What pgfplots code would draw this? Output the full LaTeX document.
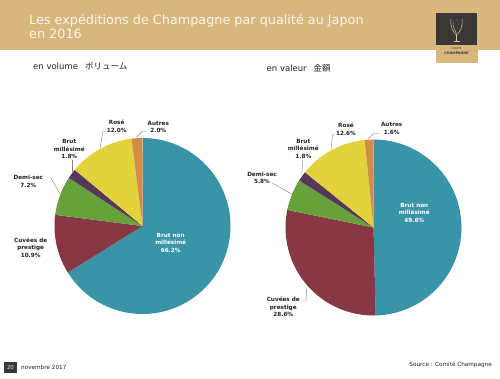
\documentclass[border=0pt]{standalone}
\usepackage{pgfplots}
\pgfplotsset{compat=1.18}
\usepackage{fontspec}
\setmainfont{DejaVu Sans}
\newfontfamily\jp{Noto Sans CJK JP}
\definecolor{band}{HTML}{D8B77E}
\definecolor{titlec}{HTML}{FAF5EA}
\definecolor{logo}{HTML}{3A3836}
\definecolor{cteal}{HTML}{3A94A8}
\definecolor{cmaroon}{HTML}{883844}
\definecolor{cgreen}{HTML}{68A03C}
\definecolor{cpurple}{HTML}{58385A}
\definecolor{cyellow}{HTML}{E2D23C}
\definecolor{corange}{HTML}{D68A46}
\definecolor{leader}{HTML}{808080}
\definecolor{lab}{HTML}{222222}
% slice: colour, cumulative start (%), cumulative end (%), total (%)
\newcommand\slice[4]{%
  \addplot[fill=#1, draw=none, domain={90-360*#3/#4}:{90-360*#2/#4}, samples=120]
    ({cos(x)},{sin(x)}) -- (axis cs:0,0) -- cycle;}
\tikzset{lbl/.style={align=center, text=lab, font=\bfseries\fontsize{5.7}{7.6}\selectfont, inner sep=0pt},
  ld/.style={draw=leader, line width=0.4pt}}
\begin{document}
\begin{tikzpicture}
\useasboundingbox (0,0) rectangle (500pt,-378pt);
\fill[white] (0,0) rectangle (500pt,-378pt);
% header band
\fill[band] (0,0) rectangle (500pt,-50pt);
\fill[band] (436pt,0) rectangle (478pt,-63pt);
\node[anchor=base west, text=titlec, font=\fontsize{12.8}{14}\selectfont, inner sep=0pt] at (29pt,-24.5pt) {Les expéditions de Champagne par qualité au Japon};
\node[anchor=base west, text=titlec, font=\fontsize{12.8}{14}\selectfont, inner sep=0pt] at (29pt,-38.5pt) {en 2016};
% logo
\fill[logo] (436pt,-13pt) rectangle (477pt,-45pt);
\draw[band!80!white, line width=0.5pt] (451pt,-19pt) .. controls (450pt,-27pt) and (453pt,-32pt) .. (456.5pt,-35pt)
  .. controls (460pt,-32pt) and (463pt,-27pt) .. (462pt,-19pt);
\draw[band!80!white, line width=0.4pt] (453pt,-22pt) .. controls (453pt,-28pt) and (455pt,-31pt) .. (456.5pt,-33pt);
\draw[band!80!white, line width=0.5pt] (456.5pt,-35pt) -- (456.5pt,-41pt);
\draw[band!80!white, line width=0.5pt] (453.5pt,-41.5pt) -- (459.5pt,-41.5pt);
\fill[band!80!white] (457pt,-20pt) circle (0.5pt) (458.5pt,-24pt) circle (0.45pt) (457.5pt,-28pt) circle (0.4pt);
\node[text=logo, font=\fontsize{2.6}{3}\selectfont, inner sep=0pt] at (456.5pt,-48.5pt) {COMITÉ};
\node[text=logo, font=\bfseries\fontsize{3.4}{4}\selectfont, inner sep=0pt] at (456.5pt,-53pt) {CHAMPAGNE};
% subtitles
\node[anchor=base west, text=lab, font=\fontsize{8.5}{9}\selectfont, inner sep=0pt] at (33pt,-69.5pt) {en volume\hspace{7pt}{\jp ボリューム}};
\node[anchor=base west, text=lab, font=\fontsize{8.5}{9}\selectfont, inner sep=0pt] at (266.5pt,-71pt) {en valeur\hspace{7pt}{\jp 金額}};

% ---- pie 1: en volume
\begin{axis}[at={(142.5pt,-226pt)}, anchor=center, scale only axis, width=176pt, height=176pt,
  xmin=-1, xmax=1, ymin=-1, ymax=1, hide axis, clip=false]
\slice{cteal}{0}{66.2}{100.1}
\slice{cmaroon}{66.2}{77.1}{100.1}
\slice{cgreen}{77.1}{84.3}{100.1}
\slice{cpurple}{84.3}{86.1}{100.1}
\slice{cyellow}{86.1}{98.1}{100.1}
\slice{corange}{98.1}{100.1}{100.1}
\end{axis}
% ---- pie 2: en valeur
\begin{axis}[at={(373.5pt,-227.5pt)}, anchor=center, scale only axis, width=176pt, height=176pt,
  xmin=-1, xmax=1, ymin=-1, ymax=1, hide axis, clip=false]
\slice{cteal}{0}{49.6}{100}
\slice{cmaroon}{49.6}{78.2}{100}
\slice{cgreen}{78.2}{84.0}{100}
\slice{cpurple}{84.0}{85.8}{100}
\slice{cyellow}{85.8}{98.4}{100}
\slice{corange}{98.4}{100}{100}
\end{axis}

% labels pie 1
\node[lbl, text=white] at (170.7pt,-242.7pt) {Brut non\\millésimé\\66.2\%};
\node[lbl] at (30.7pt,-247.7pt) {Cuvées de\\prestige\\10.9\%};
\node[lbl] at (28.3pt,-181.3pt) {Demi-sec\\7.2\%};
\node[lbl] at (69.3pt,-149pt) {Brut\\millésimé\\1.8\%};
\node[lbl] at (116.7pt,-126.5pt) {Rosé\\12.0\%};
\node[lbl] at (158.3pt,-127pt) {Autres\\2.0\%};
\draw[ld] (48pt,-178pt) -- (51pt,-178pt) -- (60pt,-194pt);
\draw[ld] (71.7pt,-160pt) -- (71.7pt,-172pt);
\draw[ld] (106pt,-131.5pt) -- (103pt,-131.5pt) -- (100pt,-148.5pt);
\draw[ld] (146.5pt,-131.5pt) -- (142pt,-131.5pt) -- (136.5pt,-137pt);
% labels pie 2
\node[lbl, text=white] at (414.3pt,-212.7pt) {Brut non\\millésimé\\49.6\%};
\node[lbl] at (283.3pt,-307pt) {Cuvées de\\prestige\\28.6\%};
\node[lbl] at (262pt,-178pt) {Demi-sec\\5.8\%};
\node[lbl] at (303.3pt,-148.7pt) {Brut\\millésimé\\1.8\%};
\node[lbl] at (346pt,-129.5pt) {Rosé\\12.6\%};
\node[lbl] at (391.7pt,-128.3pt) {Autres\\1.6\%};
\draw[ld] (302pt,-301pt) -- (306pt,-301pt) -- (306.5pt,-288pt);
\draw[ld] (272pt,-183.5pt) -- (275pt,-184.5pt) -- (291.5pt,-194pt);
\draw[ld] (302.7pt,-160pt) -- (301.7pt,-175pt);
\draw[ld] (335pt,-134.5pt) -- (332.5pt,-134.5pt) -- (331pt,-150pt);
\draw[ld] (380pt,-133.5pt) -- (374pt,-133.5pt) -- (368pt,-138.5pt);

% footer
\fill[logo] (4pt,-362pt) rectangle (17pt,-373pt);
\node[text=white!85!black, font=\fontsize{5.5}{6}\selectfont, inner sep=0pt] at (10.5pt,-367.5pt) {20};
\node[anchor=base west, text=lab, font=\fontsize{5.7}{6}\selectfont, inner sep=0pt] at (21pt,-369.5pt) {novembre 2017};
\node[anchor=base east, text=lab, font=\fontsize{5.7}{6}\selectfont, inner sep=0pt] at (492pt,-366pt) {Source : Comité Champagne};
\end{tikzpicture}
\end{document}
